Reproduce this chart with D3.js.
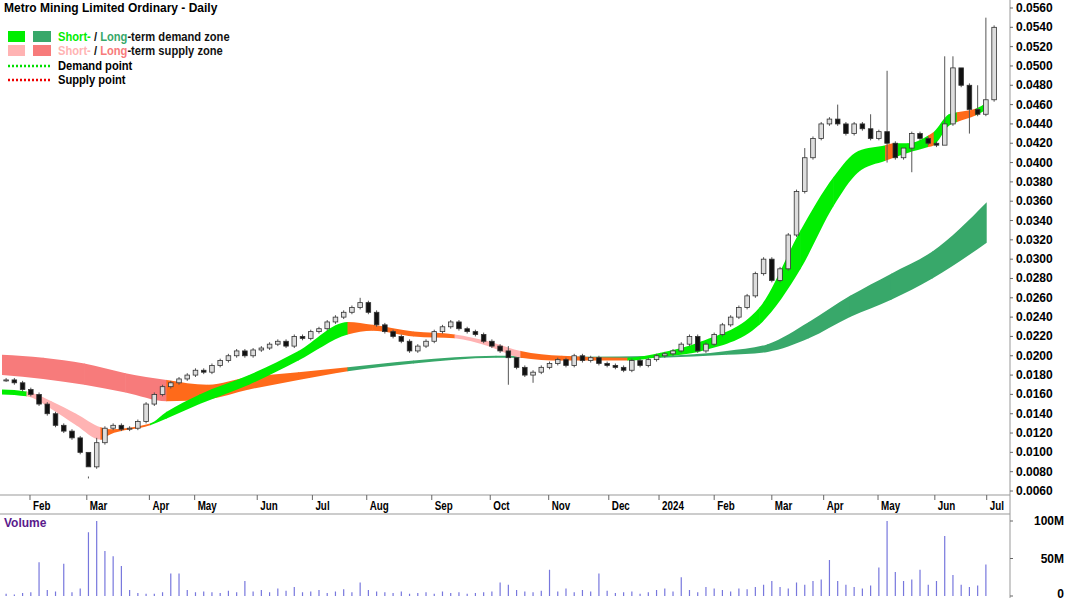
<!DOCTYPE html>
<html><head><meta charset="utf-8">
<script src="https://cdn.jsdelivr.net/npm/d3@7"></script>
<style>body{margin:0;background:#fff}svg{display:block;font-family:"Liberation Sans",Arial,sans-serif}</style>
</head><body><div id="chart"></div>
<script>
// prices in units of 0.0001
const closes = [175,172,165,160, 150,140,128,122,115,100,85, 110,125,128,124,125,132,150,
  160,168,172,176,180,185, 183,190,195,200,205,200,206, 208,212,215,210,220,218,225,
  228,235,240,245,250,255,245, 232,225,220,215,205,210,215,225, 230,235,228,225,222,215,210,
  205,198,188,180,183,188,192, 196,190,200,195,198,192,190, 188,185,195,190,196,200,
  202,205,212,220,205,212,222, 232,240,250,262,285,300,278, 290,325,370,405,425,440,
  445,440,430,440,435,425,432, 420,405,415,430,425,420,418, 440,498,480,455,450,465,540];
const highSpikes = [[10,73],[11,115],[43,260],[61,210],[62,190],[97,415],[101,460],[105,450],[107,495],[109,410],[114,510],[115,510],[116,495],[118,480],[119,550]];
const lowSpikes = [[10,75],[61,170],[64,172],[107,400],[110,390],[114,425],[117,430]];
const volumes = [3,2,4,5,45,8,6,43,5,10, 85,100,60,53,40,8,4,3,3,5, 30,30,8,5,6,5,4,7,5,20,
  6,8,5,10,7,12,5,6,8,4, 6,9,5,18,8,6,5,4,6,3, 4,5,3,6,4,5,3,4,5,6,
  18,15,8,6,5,7,35,6,10,5, 8,6,30,7,4,5,6,3,5,8, 10,6,25,8,5,12,10,8,6,10,
  9,12,15,20,12,10,18,15,20,22, 48,20,15,12,10,14,38,100,32,20, 22,35,15,20,80,28,15,12,14,42];
// long-term zone knots: [index, upper, lower, state]
const longZone = [[0,201,180,'LS'],[5,198,176,'LS'],[10,192,170,'LS'],[15,182,162,'LS'],[20,175,153,'O'],
  [25,170,155,'O'],[30,178,165,'O'],[36,183,175,'O'],[42,188,184,'LD'],[50,195,192,'LD'],[60,200,198,'LD'],
  [70,199,197,'LD'],[80,200,198,'LD'],[88,205,201,'LD'],[93,212,204,'LD'],[98,235,218,'LD'],[103,262,240,'LD'],
  [108,285,258,'LD'],[113,308,280,'LD'],[119.6,359,317,'LD']];
const shortZone = [[0,165,160,'SD'],[3,163,158,'SS'],[6,153,145,'SS'],[9,140,128,'SS'],[12,126,113,'O'],
  [13,124,118,'O'],[18,130,128,'SD'],[20,142,135,'SD'],[24,160,150,'SD'],[30,180,170,'SD'],[36,205,195,'SD'],
  [42,235,222,'O'],[45,232,226,'O'],[50,225,220,'O'],[55,222,218,'SS'],[59,215,210,'SS'],[63,205,198,'O'],
  [68,200,195,'O'],[76,198,195,'SD'],[80,203,199,'SD'],[85,215,205,'SD'],[92,250,232,'SD'],[97,330,290,'SD'],
  [101,385,355,'SD'],[104,412,390,'SD'],[107.3,418,402,'O'],[108.3,420,405,'SD'],[110,420,410,'SD'],[112.5,428,416,'O'],
  [113.2,432,418,'SD'],[115,450,438,'SD'],[116,452,442,'O'],[118.3,456,449,'SD'],[119.6,462,455,'SD']];
const monthLabels = ['Feb','Mar','Apr','May','Jun','Jul','Aug','Sep','Oct','Nov','Dec','2024','Feb','Mar','Apr','May','Jun','Jul'];
const monthStarts = [3.4,10.3,17.9,23.4,31.0,37.7,44.3,52.2,59.3,66.4,73.7,79.8,86.5,93.5,99.8,106.4,113.3,119.6];
const priceTicks = d3.range(60, 561, 20);
const volTicks = [[0,'0'],[50,'50M'],[100,'100M']];

const colors = {SD:'#00ee00', LD:'#38a86a', SS:'#ffb3b3', LS:'#f77b7b', O:'#ff6a1a'};
const W = 1066, H = 600, axisX = 1010;
const x = d3.scaleLinear().domain([0, 120]).range([2, 990]);
const y = d3.scaleLinear().domain([60, 560]).range([491, 8]);
const yv = d3.scaleLinear().domain([0, 100]).range([596, 521]);

const svg = d3.select('#chart').append('svg').attr('width', W).attr('height', H);

// zones, drawn as smooth areas clipped to each state segment
function drawZone(knots, id) {
  const area = d3.area().curve(d3.curveMonotoneX)
    .x(d => x(d[0])).y0(d => y(d[2])).y1(d => y(d[1]));
  knots.slice(0, -1).forEach((k, i) => {
    const cid = `${id}${i}`;
    svg.append('clipPath').attr('id', cid).append('rect')
      .attr('x', x(k[0]) - 0.3).attr('width', x(knots[i + 1][0]) - x(k[0]) + 0.6)
      .attr('y', 0).attr('height', 495);
    svg.append('path').attr('d', area(knots)).attr('fill', colors[k[3]])
      .attr('clip-path', `url(#${cid})`);
  });
}
drawZone(longZone, 'lz');
drawZone(shortZone, 'sz');

// candles
const hiMap = new Map(highSpikes), loMap = new Map(lowSpikes);
const bw = 4.6;
closes.forEach((c, i) => {
  const o = i === 0 ? c : closes[i - 1];
  const hi = hiMap.get(i) ?? Math.max(o, c) + 2;
  const lo = loMap.get(i) ?? Math.min(o, c) - 2;
  const cx = x(i + 0.5);
  svg.append('line').attr('x1', cx).attr('x2', cx).attr('y1', y(hi)).attr('y2', y(lo))
    .attr('stroke', '#555').attr('stroke-width', 1);
  const top = y(Math.max(o, c)), bot = y(Math.min(o, c));
  svg.append('rect').attr('x', cx - bw / 2).attr('y', top).attr('width', bw)
    .attr('height', Math.max(1, bot - top))
    .attr('fill', c >= o ? '#ddd' : '#111').attr('stroke', '#333').attr('stroke-width', 0.8);
});

// price axis
svg.append('line').attr('x1', 0).attr('x2', axisX).attr('y1', 495).attr('y2', 495).attr('stroke', '#999');
svg.append('line').attr('x1', axisX).attr('x2', axisX).attr('y1', 0).attr('y2', 598).attr('stroke', '#999');
svg.append('line').attr('x1', 0).attr('x2', axisX).attr('y1', 514).attr('y2', 514).attr('stroke', '#999');
svg.append('g').selectAll('g').data(priceTicks).join('g').each(function (d) {
  const g = d3.select(this);
  g.append('line').attr('x1', axisX).attr('x2', axisX + 3).attr('y1', y(d)).attr('y2', y(d)).attr('stroke', '#666');
  g.append('text').attr('x', axisX + 6).attr('y', y(d) + 4).attr('font-size', 12).attr('font-weight', 'bold')
    .text((d / 10000).toFixed(4));
});

// month axis (condensed labels)
monthStarts.forEach((m, i) => {
  svg.append('line').attr('x1', x(m)).attr('x2', x(m)).attr('y1', 495).attr('y2', 500).attr('stroke', '#666');
  svg.append('text').attr('transform', `translate(${x(m) + 3},510) scale(0.82,1)`)
    .attr('font-size', 12).attr('font-weight', 'bold').text(monthLabels[i]);
});

// volume
volumes.forEach((v, i) => {
  svg.append('line').attr('x1', x(i + 0.5)).attr('x2', x(i + 0.5)).attr('y1', yv(0)).attr('y2', yv(v))
    .attr('stroke', '#7777dd').attr('stroke-width', 1.2);
});
volTicks.forEach(([v, t]) => {
  svg.append('line').attr('x1', axisX).attr('x2', axisX + 3).attr('y1', yv(v)).attr('y2', yv(v)).attr('stroke', '#666');
  svg.append('text').attr('x', axisX + 54).attr('y', Math.min(yv(v) + 4, 598)).attr('text-anchor', 'end')
    .attr('font-size', 12).attr('font-weight', 'bold').text(t);
});
svg.append('text').attr('x', 4).attr('y', 527).attr('font-size', 12).attr('font-weight', 'bold')
  .attr('fill', '#5a1a8c').text('Volume');

// title + legend
svg.append('text').attr('x', 4).attr('y', 12).attr('font-size', 12).attr('font-weight', 'bold').text('Metro Mining Limited Ordinary - Daily');
const leg = [
  [colors.SD, colors.LD, 'Short-', '/ ', 'Long', '-term demand zone', 37],
  [colors.SS, colors.LS, 'Short-', '/ ', 'Long', '-term supply zone', 51]
];
leg.forEach(([c1, c2, a, b, l, rest, ly]) => {
  svg.append('rect').attr('x', 8).attr('y', ly - 6).attr('width', 17).attr('height', 11).attr('fill', c1);
  svg.append('rect').attr('x', 33).attr('y', ly - 6).attr('width', 18).attr('height', 11).attr('fill', c2);
  const t = svg.append('text').attr('transform', `translate(58,${ly + 4}) scale(0.93,1)`)
    .attr('font-size', 12).attr('font-weight', 'bold');
  t.append('tspan').attr('fill', c1).text(a);
  t.append('tspan').attr('fill', '#111').text(' ' + b);
  t.append('tspan').attr('fill', c2).text(l);
  t.append('tspan').attr('fill', '#111').text(rest);
});
[['#00dd00', 'Demand point', 66], ['#ee0000', 'Supply point', 80]].forEach(([c, t, ly]) => {
  svg.append('line').attr('x1', 8).attr('x2', 51).attr('y1', ly).attr('y2', ly)
    .attr('stroke', c).attr('stroke-width', 2.5).attr('stroke-dasharray', '2,2');
  svg.append('text').attr('transform', `translate(58,${ly + 4}) scale(0.93,1)`)
    .attr('font-size', 12).attr('font-weight', 'bold').text(t);
});
</script></body></html>
